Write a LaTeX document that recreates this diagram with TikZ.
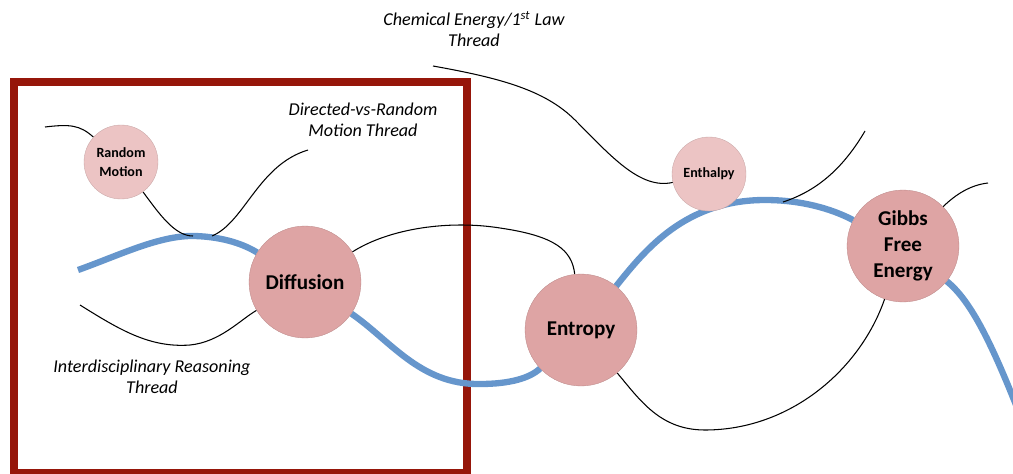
\documentclass[tikz,border=0pt]{standalone}
\usepackage{fontspec}
\setmainfont{Carlito}
\usepackage{tikz}
\usetikzlibrary{calc, positioning}
\definecolor{conceptpink}{RGB}{222,164,164}
\definecolor{minorpink}{RGB}{236,196,196}
\definecolor{threadblue}{RGB}{102,150,204}
\definecolor{framered}{RGB}{150,22,10}
\pgfdeclarelayer{background}
\pgfdeclarelayer{lines}
\pgfsetlayers{background,lines,main}

\begin{document}
\begin{tikzpicture}[x=0.02cm, y=-0.02cm,
  concept/.style={circle, fill=conceptpink, draw=conceptpink!85!black, line width=0.2pt, minimum size=2.24cm, inner sep=0pt, align=center, font=\bfseries\fontsize{12}{15}\selectfont},
  minor/.style={circle, fill=minorpink, draw=minorpink!85!black, line width=0.2pt, minimum size=1.48cm, inner sep=0pt, align=center, font=\bfseries\fontsize{8}{11}\selectfont},
  mainthread/.style={line width=3.6pt, threadblue},
  thread/.style={line width=0.6pt, black},
  threadlabel/.style={align=center, font=\itshape\fontsize{10.3}{12}\selectfont}]
\useasboundingbox (0,0) rectangle (1013,473);

% concepts
\node (RM) [minor] at (121,162) {Random\\Motion};
\node (Diff) [concept] at (305,282) {Diffusion};
\node (Ent) [concept] at (581,330) {Entropy};
\node (Enth) [minor] at (709,174) {Enthalpy};
\node (Gibbs) [concept] at (903,246) {Gibbs\\Free\\Energy};

% loose ends of the threads
\coordinate (blueStart) at (78,270);
\coordinate (blueEnd) at (1016,405);
\coordinate (rmTail) at (45,127);
\coordinate (rmJoin) at (193,236);
\coordinate (dvJoin) at (212,236);
\coordinate (dvTail) at (308,150);
\coordinate (idTail) at (80,305);
\coordinate (chemTail) at (433,66);
\coordinate (enJoin) at (783,202);
\coordinate (enTail) at (865,131);
\coordinate (gbTail) at (988,183);

% labels
\node (chemLbl) [threadlabel] at (474,29) {Chemical Energy/1\textsuperscript{st} Law\\Thread};
\node (dvLbl) [threadlabel] at (363,120) {Directed-vs-Random\\Motion Thread};
\node (idLbl) [threadlabel] at (152,377) {Interdisciplinary Reasoning\\Thread};

\begin{pgfonlayer}{background}
\draw[framered, line width=4.6pt] (14,82) rectangle (467,473);
\end{pgfonlayer}

\begin{pgfonlayer}{lines}
% main thread
\draw[mainthread] (blueStart) .. controls (120,255) and (160,235) .. (195,236)
  .. controls (225,237) and (245,245) .. (Diff);
\draw[mainthread] (Diff) .. controls (390,340) and (420,385) .. (480,384)
  .. controls (510,384) and (530,378) .. (Ent);
\draw[mainthread] (Ent) .. controls (645,250) and (685,200) .. (765,200)
  .. controls (800,200) and (830,208) .. (Gibbs);
\draw[mainthread] (Gibbs) .. controls (970,300) and (990,340) .. (blueEnd);

% side threads
\draw[thread] (rmTail) .. controls (70,124) and (80,125) .. (RM);
\draw[thread] (RM) .. controls (160,215) and (175,236) .. (rmJoin);
\draw[thread] (dvJoin) .. controls (245,222) and (258,165) .. (dvTail);
\draw[thread] (idTail) .. controls (120,330) and (150,348) .. (190,345)
  .. controls (220,342) and (240,320) .. (Diff);
\draw[thread] (Diff) .. controls (390,228) and (450,220) .. (500,228)
  .. controls (555,236) and (572,250) .. (Ent);
\draw[thread] (Ent) .. controls (640,400) and (660,430) .. (705,430)
  .. controls (790,430) and (860,370) .. (Gibbs);
\draw[thread] (chemTail) .. controls (500,78) and (545,90) .. (575,120)
  .. controls (610,155) and (640,190) .. (Enth);
\draw[thread] (enJoin) .. controls (820,190) and (845,165) .. (enTail);
\draw[thread] (Gibbs) .. controls (955,195) and (970,185) .. (gbTail);
\end{pgfonlayer}
\end{tikzpicture}
\end{document}
